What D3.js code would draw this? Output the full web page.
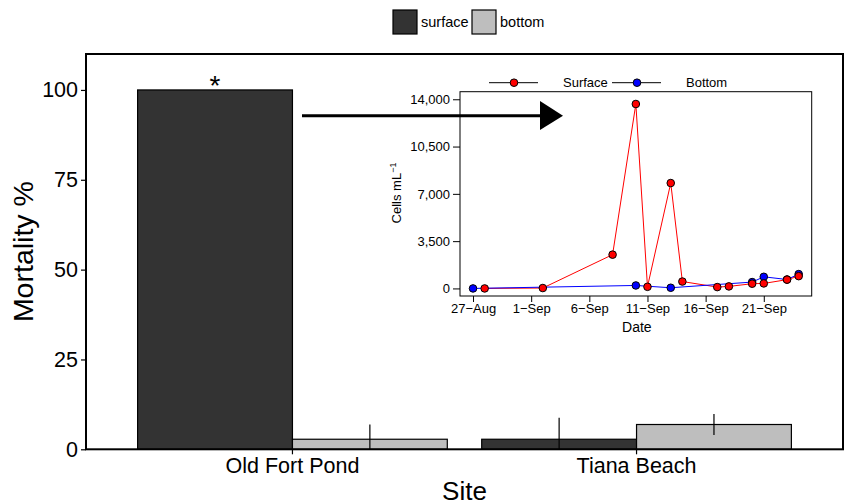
<!DOCTYPE html>
<html>
<head>
<meta charset="utf-8">
<script src="https://cdn.jsdelivr.net/npm/d3@7"></script>
<style>
  body { margin: 0; background: #fff; }
  svg { font-family: "Liberation Sans", Arial, sans-serif; display: block; }
</style>
</head>
<body>
<div class="holder"></div>
<script>
// main bar chart data
const sites = ['Old Fort Pond', 'Tiana Beach'];
const depths = ['surface', 'bottom'];
const surfaceMortality = [100, 2.8];
const surfaceErr = [0, 6];
const bottomMortality = [2.8, 6.9];
const bottomErr = [4.1, 2.9];
const mortTicks = [0, 25, 50, 75, 100];

// inset cell count data
const surfaceDates = ['2016-08-28', '2016-09-02', '2016-09-08', '2016-09-10', '2016-09-11', '2016-09-13',
  '2016-09-14', '2016-09-17', '2016-09-18', '2016-09-20', '2016-09-21', '2016-09-23', '2016-09-24'];
const surfaceCells = [0, 30, 2500, 13650, 120, 7800, 510, 100, 150, 350, 370, 650, 910];
const bottomDates = ['2016-08-27', '2016-09-10', '2016-09-13', '2016-09-20', '2016-09-21', '2016-09-23', '2016-09-24'];
const bottomCells = [0, 220, 50, 470, 860, 660, 1060];
const cellTicks = [0, 3500, 7000, 10500, 14000];
const dateTicks = ['2016-08-27', '2016-09-01', '2016-09-06', '2016-09-11', '2016-09-16', '2016-09-21'];

const W = 844, H = 503;
const fill = { surface: '#333333', bottom: '#bebebe' };

const svg = d3.select('.holder').append('svg')
  .attr('width', W).attr('height', H);

// ---- main panel
const panel = { left: 86, right: 843, top: 54, bottom: 449.3 };

const x = d3.scaleBand()
  .domain(sites)
  .range([panel.left, panel.right])
  .paddingInner(0.1)
  .paddingOuter(0.15);
const x1 = d3.scaleBand().domain(depths).range([0, x.bandwidth()]);
const y = d3.scaleLinear().domain([0, 110]).range([panel.bottom, panel.top]);

svg.append('defs').append('clipPath').attr('id', 'panelClip')
  .append('rect')
  .attr('x', panel.left).attr('y', panel.top)
  .attr('width', panel.right - panel.left).attr('height', panel.bottom - panel.top);

const rows = [];
sites.forEach((s, i) => {
  rows.push({ site: s, depth: 'surface', v: surfaceMortality[i], e: surfaceErr[i] });
  rows.push({ site: s, depth: 'bottom', v: bottomMortality[i], e: bottomErr[i] });
});

const plot = svg.append('g').attr('clip-path', 'url(#panelClip)');

plot.selectAll('rect.bar')
  .data(rows)
  .enter()
  .append('rect')
  .attr('class', 'bar')
  .attr('x', d => x(d.site) + x1(d.depth))
  .attr('y', d => y(d.v))
  .attr('width', x1.bandwidth())
  .attr('height', d => y(0) - y(d.v))
  .style('fill', d => fill[d.depth])
  .style('stroke', '#000')
  .style('stroke-width', 1.2);

plot.selectAll('line.err')
  .data(rows.filter(d => d.e > 0))
  .enter()
  .append('line')
  .attr('class', 'err')
  .attr('x1', d => x(d.site) + x1(d.depth) + x1.bandwidth() / 2)
  .attr('x2', d => x(d.site) + x1(d.depth) + x1.bandwidth() / 2)
  .attr('y1', d => y(d.v + d.e))
  .attr('y2', d => y(Math.max(0, d.v - d.e)))
  .style('stroke', '#000')
  .style('stroke-width', 1.2);

// significance star
svg.append('text')
  .attr('x', x(sites[0]) + x1('surface') + x1.bandwidth() / 2)
  .attr('y', y(100) + 5)
  .attr('text-anchor', 'middle')
  .style('font-size', '28px')
  .text('*');

// panel border
svg.append('rect')
  .attr('x', panel.left).attr('y', panel.top)
  .attr('width', panel.right - panel.left).attr('height', panel.bottom - panel.top)
  .style('fill', 'none').style('stroke', '#000').style('stroke-width', 2);

// axes
const yAxis = svg.append('g')
  .attr('transform', `translate(${panel.left},0)`)
  .call(d3.axisLeft(y).tickValues(mortTicks).tickSize(5).tickPadding(3));
const xAxis = svg.append('g')
  .attr('transform', `translate(0,${panel.bottom})`)
  .call(d3.axisBottom(x).tickSize(5).tickPadding(3));
[xAxis, yAxis].forEach(g => {
  g.select('.domain').remove();
  g.selectAll('line').style('stroke', '#000').style('stroke-width', 1.2);
  g.selectAll('text').style('font-size', '21.5px').style('fill', '#000')
    .style('font-family', '"Liberation Sans", Arial, sans-serif');
});

svg.append('text')
  .attr('transform', `translate(33,${(panel.top + panel.bottom) / 2}) rotate(-90)`)
  .attr('text-anchor', 'middle')
  .style('font-size', '28.5px')
  .text('Mortality %');

svg.append('text')
  .attr('x', (panel.left + panel.right) / 2)
  .attr('y', 500)
  .attr('text-anchor', 'middle')
  .style('font-size', '26px')
  .text('Site');

// top legend
const leg = svg.append('g');
const legX = [393, 472];
depths.forEach((d, i) => {
  leg.append('rect')
    .attr('x', legX[i]).attr('y', 10).attr('width', 24).attr('height', 24)
    .style('fill', fill[d]).style('stroke', '#000').style('stroke-width', 1.2);
  leg.append('text')
    .attr('x', legX[i] + 28).attr('y', 27)
    .style('font-size', '14.5px')
    .text(d);
});

// ---- inset
const inset = { left: 460, right: 811.7, top: 91.7, bottom: 296 };
const parse = d3.utcParse('%Y-%m-%d');
const d0 = parse('2016-08-27'), d1 = parse('2016-09-24');
const pad = (d1 - d0) * 0.04;
const xt = d3.scaleUtc()
  .domain([new Date(+d0 - pad), new Date(+d1 + pad)])
  .range([inset.left, inset.right]);
const yt = d3.scaleLinear().domain([-560, 14560]).range([inset.bottom, inset.top]);

svg.append('rect')
  .attr('x', inset.left).attr('y', inset.top)
  .attr('width', inset.right - inset.left).attr('height', inset.bottom - inset.top)
  .style('fill', '#fff').style('stroke', '#000').style('stroke-width', 1);

const line = d3.line().x(d => xt(d.date)).y(d => yt(d.v));
const series = [
  { name: 'Surface', color: '#ff0000',
    pts: surfaceDates.map((s, i) => ({ date: parse(s), v: surfaceCells[i] })) },
  { name: 'Bottom', color: '#0000ff',
    pts: bottomDates.map((s, i) => ({ date: parse(s), v: bottomCells[i] })) }
];

series.forEach(s => {
  svg.append('path')
    .datum(s.pts)
    .attr('d', line)
    .style('fill', 'none').style('stroke', s.color).style('stroke-width', 1);
});
series.slice().reverse().forEach(s => {
  svg.selectAll(null)
    .data(s.pts)
    .enter()
    .append('circle')
    .attr('cx', d => xt(d.date))
    .attr('cy', d => yt(d.v))
    .attr('r', 3.8)
    .style('fill', s.color).style('stroke', '#000').style('stroke-width', 1);
});

const yi = svg.append('g')
  .attr('transform', `translate(${inset.left},0)`)
  .call(d3.axisLeft(yt).tickValues(cellTicks).tickSize(7).tickPadding(3).tickFormat(d3.format(',')));
const xi = svg.append('g')
  .attr('transform', `translate(0,${inset.bottom})`)
  .call(d3.axisBottom(xt).tickValues(dateTicks.map(parse)).tickSize(6).tickPadding(2)
    .tickFormat(d => d3.utcFormat('%-d')(d) + '\u2212' + d3.utcFormat('%b')(d)));
[xi, yi].forEach(g => {
  g.select('.domain').remove();
  g.selectAll('line').style('stroke', '#000');
  g.selectAll('text').style('font-size', '13px').style('fill', '#000')
    .style('font-family', '"Liberation Sans", Arial, sans-serif');
});

svg.append('text')
  .attr('x', (inset.left + inset.right) / 2 + 1)
  .attr('y', 332)
  .attr('text-anchor', 'middle')
  .style('font-size', '14px')
  .text('Date');

const ylab = svg.append('text')
  .attr('transform', `translate(401,193) rotate(-90)`)
  .attr('text-anchor', 'middle')
  .style('font-size', '13px');
ylab.append('tspan').text('Cells mL');
ylab.append('tspan').attr('dy', -5).style('font-size', '9px').text('\u22121');

// inset legend
const ilx = [489, 612];
series.forEach((s, i) => {
  svg.append('line')
    .attr('x1', ilx[i]).attr('x2', ilx[i] + 49)
    .attr('y1', 82.7).attr('y2', 82.7)
    .style('stroke', '#000').style('stroke-width', 1);
  svg.append('circle')
    .attr('cx', ilx[i] + 25).attr('cy', 82.7).attr('r', 3.8)
    .style('fill', s.color).style('stroke', '#000');
  svg.append('text')
    .attr('x', ilx[i] + 74).attr('y', 87)
    .style('font-size', '13px')
    .text(s.name);
});

// arrow pointing into the inset
const arrow = svg.append('g');
arrow.append('line')
  .attr('x1', 302).attr('x2', 541)
  .attr('y1', 115.7).attr('y2', 115.7)
  .style('stroke', '#000').style('stroke-width', 3);
arrow.append('path')
  .attr('d', 'M540,101 L563,115.7 L540,130 Z')
  .style('fill', '#000');
</script>
</body>
</html>
